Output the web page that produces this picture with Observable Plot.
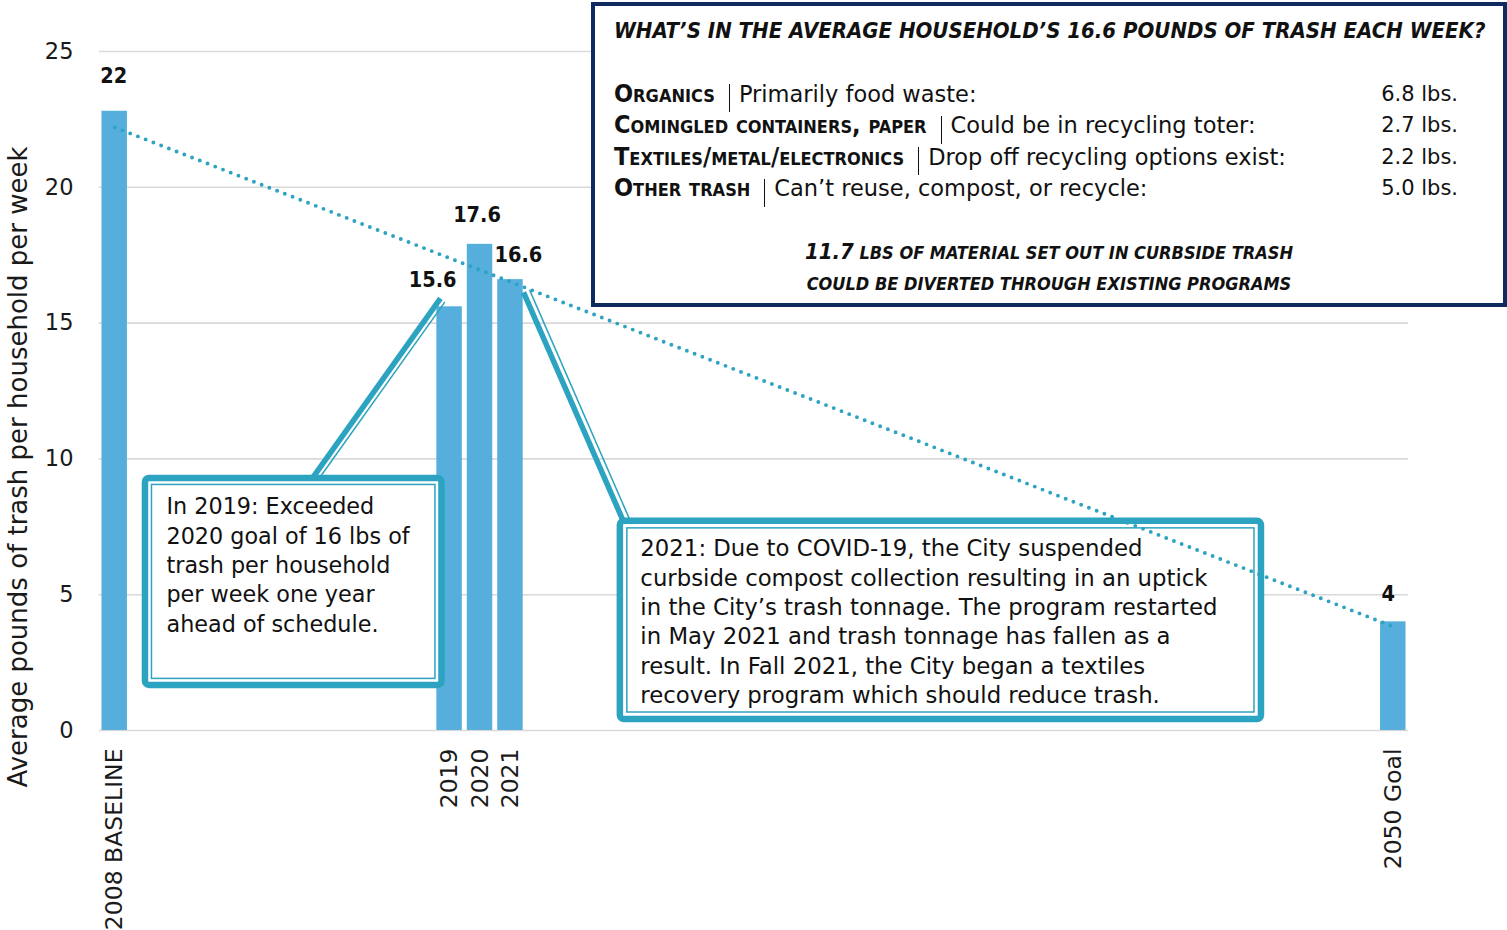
<!DOCTYPE html>
<html>
<head>
<meta charset="utf-8">
<script src="https://cdn.jsdelivr.net/npm/d3@7"></script>
<script src="https://cdn.jsdelivr.net/npm/@observablehq/plot@0.6"></script>
<style>
  html, body { margin:0; padding:0; background:#fff; }
  #wrap { position:relative; width:1507px; height:930px; overflow:hidden; background:#fff; }
  #wrap svg { position:absolute; left:0; top:0; overflow:visible; }
  .infobox { position:absolute; left:591px; top:2px; width:916px; height:305px; box-sizing:border-box; border:4.5px solid #0f2a5e; background:#fff; }
  .ln { position:absolute; white-space:nowrap; height:32px; line-height:32px; color:#111; }
  .cond { font-family:"Liberation Sans Narrow","DejaVu Sans Condensed","Roboto Condensed",sans-serif; font-weight:bold; }
  .ttl { font-style:italic; font-size:22px; }
  .cat { font-variant:small-caps; font-size:25px; }
  .body { font-family:"DejaVu Sans", sans-serif; font-size:21px; }
  .desc { font-size:22.5px; }
  .sep { display:inline-block; width:0; height:28px; border-left:1.6px solid #111; vertical-align:middle; margin:0 9px 0 14px; }
  .foot { font-style:italic; font-size:18px; }
  .foot .big { font-size:22px; }
</style>
</head>
<body>
<div id="wrap"></div>
<script>
// ---- data ----
const years = [2008, 2019, 2020, 2021, 2050];
const tickNames = ["2008 BASELINE", "2019", "2020", "2021", "2050 Goal"];
const pounds = [22.8, 15.6, 17.9, 16.6, 4.0];
const valueLabels = ["22", "15.6", "17.6", "16.6", "4"];
const yTicks = [0, 5, 10, 15, 20, 25];
const yTitle = "Average pounds of trash per household per week";
const note2019 = ["In 2019: Exceeded", "2020 goal of 16 lbs of", "trash per household", "per week one year", "ahead of schedule."];
const note2021 = [
  "2021: Due to COVID-19, the City suspended",
  "curbside compost collection resulting in an uptick",
  "in the City’s trash tonnage. The program restarted",
  "in May 2021 and trash tonnage has fallen as a",
  "result. In Fall 2021, the City began a textiles",
  "recovery program which should reduce trash."
];
const infoTitle = "WHAT’S IN THE AVERAGE HOUSEHOLD’S 16.6 POUNDS OF TRASH EACH WEEK?";
const infoCategories = ["Organics", "Comingled containers, paper", "Textiles/metal/electronics", "Other trash"];
const infoDescriptions = ["Primarily food waste:", "Could be in recycling toter:", "Drop off recycling options exist:", "Can’t reuse, compost, or recycle:"];
const infoPounds = ["6.8", "2.7", "2.2", "5.0"];
const infoFoot1Value = "11.7";
const infoFoot1Text = "LBS OF MATERIAL SET OUT IN CURBSIDE TRASH";
const infoFoot2Text = "COULD BE DIVERTED THROUGH EXISTING PROGRAMS";

// ---- table ----
const rows = years.map((year, i) => ({year, value: pounds[i], label: valueLabels[i]}));

const BAR = "#56aedc", TEAL = "#2ca3c0", INK = "#111";
const COND = "'Liberation Sans Narrow','DejaVu Sans Condensed','Roboto Condensed',sans-serif";
const BODY = "'DejaVu Sans', sans-serif";

const labelMark = (year, dx, dy) => Plot.text(rows, {
  filter: d => d.year === year, x: "year", y: "value", text: "label",
  dx, dy, fontFamily: COND, fontWeight: "bold", fontSize: 21.5, fill: INK
});

const chart = Plot.plot({
  width: 1507, height: 930,
  marginLeft: 99, marginRight: 99, marginTop: 51, marginBottom: 200,
  style: {fontFamily: BODY, background: "transparent", color: INK, overflow: "visible"},
  x: {type: "linear", domain: [2007.5, 2050.5]},
  y: {domain: [0, 25]},
  marks: [
    Plot.gridY(yTicks, {stroke: "#d9d9d9", strokeOpacity: 1, strokeWidth: 1.6}),
    Plot.axisY({ticks: yTicks, tickSize: 0, tickPadding: 26, fontSize: 22.5, label: null, fill: "#1a1a1a"}),
    Plot.axisX({ticks: years, tickFormat: d => tickNames[years.indexOf(d)], tickRotate: -90,
      tickSize: 0, tickPadding: 18, fontSize: 23.5, label: null, fill: "#1a1a1a"}),
    Plot.text([yTitle], {frameAnchor: "left", textAnchor: "middle", rotate: -90, dx: -81, dy: 76,
      fontSize: 26, fill: "#1a1a1a"}),
    // bars
    Plot.rectY(rows, {x1: d => d.year - 0.5, x2: d => d.year + 0.5, y: "value", fill: BAR, insetLeft: 2.5, insetRight: 2.5}),
    // leader lines
    Plot.link([note2019], {x1: 2014.53, y1: 9.35, x2: 2018.70, y2: 15.91, stroke: TEAL, strokeWidth: 5.5}),
    Plot.link([note2019], {x1: 2014.53, y1: 9.35, x2: 2018.70, y2: 15.91, stroke: TEAL, strokeWidth: 1.5, dx: 4.5, dy: 3.5}),
    Plot.link([note2021], {x1: 2021.43, y1: 16.13, x2: 2024.71, y2: 7.70, stroke: TEAL, strokeWidth: 5.5}),
    Plot.link([note2021], {x1: 2021.43, y1: 16.13, x2: 2024.71, y2: 7.70, stroke: TEAL, strokeWidth: 1.5, dx: 6, dy: -2.5}),
    // callout boxes
    Plot.rect([note2019], {x1: 2009.01, x2: 2018.75, y1: 1.66, y2: 9.28, fill: "white", stroke: TEAL, strokeWidth: 6.5, rx: 4}),
    Plot.rect([note2019], {x1: 2009.01, x2: 2018.75, y1: 1.66, y2: 9.28, fill: "none", stroke: TEAL, strokeWidth: 1.5, inset: 6.5}),
    Plot.rect([note2021], {x1: 2024.61, x2: 2045.67, y1: 0.405, y2: 7.70, fill: "white", stroke: TEAL, strokeWidth: 6.5, rx: 4}),
    Plot.rect([note2021], {x1: 2024.61, x2: 2045.67, y1: 0.405, y2: 7.70, fill: "none", stroke: TEAL, strokeWidth: 1.5, inset: 7}),
    Plot.text([note2019.join("\n")], {x: 2009.01, y: 9.28, dx: 21, dy: 15, textAnchor: "start", lineAnchor: "top",
      fontSize: 22.3, lineHeight: 1.315, fill: INK}),
    Plot.text([note2021.join("\n")], {x: 2024.61, y: 7.70, dx: 20, dy: 14, textAnchor: "start", lineAnchor: "top",
      fontSize: 22.8, lineHeight: 1.29, fill: INK}),
    // trend
    Plot.linearRegressionY(rows, {x: "year", y: "value", ci: 0, stroke: TEAL, strokeWidth: 3.9,
      strokeDasharray: "0 8.3", strokeLinecap: "round"}),
    // value labels
    labelMark(2008, -1, -35),
    labelMark(2019, -17, -27),
    labelMark(2020, -3, -29),
    labelMark(2021, 8, -25),
    labelMark(2050, -5, -28)
  ]
});

const wrap = d3.select("#wrap");
wrap.node().appendChild(chart);

// ---- info box (HTML legend-like panel) ----
wrap.append("div").attr("class", "infobox");
wrap.append("div").attr("class", "ln cond ttl").style("left", "614px").style("top", "15px").text(infoTitle);
infoCategories.forEach((cat, i) => {
  const top = 78 + i * 31.4;
  const line = wrap.append("div").attr("class", "ln").style("left", "614px").style("top", top + "px");
  line.append("span").attr("class", "cond cat").text(cat);
  line.append("span").attr("class", "sep");
  line.append("span").attr("class", "body desc").text(infoDescriptions[i]);
  wrap.append("div").attr("class", "ln body").style("left", "1300px").style("width", "158px")
    .style("text-align", "right").style("top", top + "px").text(infoPounds[i] + " lbs.");
});
const f1 = wrap.append("div").attr("class", "ln cond foot").style("left", "593px").style("width", "912px")
  .style("text-align", "center").style("top", "236px");
f1.append("span").attr("class", "big").text(infoFoot1Value);
f1.append("span").text(" " + infoFoot1Text);
wrap.append("div").attr("class", "ln cond foot").style("left", "593px").style("width", "912px")
  .style("text-align", "center").style("top", "268px").text(infoFoot2Text);
</script>
</body>
</html>
